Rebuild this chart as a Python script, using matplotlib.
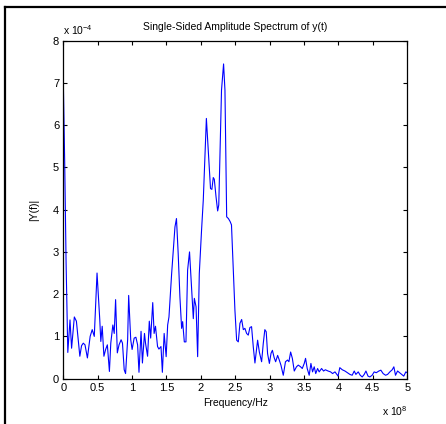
import numpy as np
import matplotlib
matplotlib.use("Agg")
import matplotlib.pyplot as plt
from matplotlib.lines import Line2D
from matplotlib.ticker import FormatStrFormatter

plt.rcParams['font.family'] = ['Liberation Sans', 'DejaVu Sans']
plt.rcParams['mathtext.fontset'] = 'custom'
plt.rcParams['mathtext.rm'] = 'Liberation Sans'

# frequency in units of 1e8 Hz, amplitude in units of 1e-4
freq = [0.0, 0.02, 0.04, 0.065, 0.097, 0.12, 0.16, 0.19, 0.24, 0.265,
        0.29, 0.315, 0.35, 0.39, 0.42, 0.45, 0.49, 0.53, 0.545, 0.565,
        0.59, 0.615, 0.64, 0.67, 0.69, 0.72, 0.74, 0.76, 0.785, 0.81,
        0.84, 0.86, 0.885, 0.905, 0.935, 0.95, 0.98, 1.0, 1.03, 1.055,
        1.08, 1.10, 1.13, 1.15, 1.18, 1.195, 1.225, 1.25, 1.27, 1.30,
        1.32, 1.34, 1.37, 1.39, 1.42, 1.44, 1.466, 1.495, 1.517, 1.536,
        1.575, 1.61, 1.623, 1.645, 1.67, 1.695, 1.72, 1.735, 1.759, 1.783,
        1.807, 1.835, 1.866, 1.89, 1.905, 1.93, 1.953, 1.977, 2.01, 2.035,
        2.08, 2.14, 2.16, 2.18, 2.195, 2.22, 2.244, 2.26, 2.30, 2.33,
        2.35, 2.375, 2.40, 2.425, 2.445, 2.495, 2.52, 2.544, 2.568, 2.593,
        2.617, 2.64, 2.665, 2.689, 2.713, 2.737, 2.762, 2.786, 2.81, 2.825,
        2.85, 2.883, 2.907, 2.93, 2.95, 2.97, 2.996, 3.02, 3.04, 3.065,
        3.087, 3.116, 3.14, 3.164, 3.198, 3.23, 3.26, 3.28, 3.305, 3.33,
        3.358, 3.39, 3.416, 3.45, 3.474, 3.503, 3.522, 3.546, 3.575, 3.60,
        3.624, 3.648, 3.67, 3.697, 3.72, 3.755, 3.784, 3.81, 3.85, 3.886,
        3.915, 3.95, 3.973, 3.995, 4.02, 4.056, 4.095, 4.13, 4.167, 4.20,
        4.23, 4.254, 4.288, 4.317, 4.346, 4.375, 4.40, 4.43, 4.457, 4.49,
        4.52, 4.55, 4.588, 4.617, 4.65, 4.686, 4.715, 4.748, 4.782, 4.806,
        4.83, 4.86, 4.89, 4.92, 4.95, 4.98, 5.0]
amp = [7.0, 5.1, 2.75, 0.62, 1.39, 0.72, 1.46, 1.36, 0.53, 0.78,
       0.84, 0.80, 0.49, 1.0, 1.16, 1.0, 2.5, 1.39, 0.88, 1.24,
       0.53, 0.69, 0.80, 0.17, 0.84, 1.27, 1.07, 1.87, 0.61, 0.80,
       0.92, 0.84, 0.21, 0.12, 0.92, 1.97, 0.92, 0.69, 0.96, 0.98,
       0.80, 0.15, 1.12, 0.37, 1.07, 0.84, 0.53, 1.36, 0.96, 1.80,
       1.07, 1.24, 0.76, 0.70, 0.76, 0.15, 1.07, 0.52, 1.27, 1.46,
       2.49, 3.3, 3.59, 3.79, 2.96, 1.94, 1.19, 1.35, 0.87, 0.87,
       2.57, 3.0, 2.09, 1.42, 1.90, 1.70, 0.52, 2.49, 3.52, 4.23,
       6.16, 4.50, 4.48, 4.76, 4.72, 4.31, 3.97, 4.11, 6.83, 7.45,
       6.83, 3.83, 3.79, 3.72, 3.64, 1.62, 0.91, 0.87, 1.31, 1.40,
       1.16, 1.19, 1.07, 1.03, 1.21, 1.23, 0.75, 0.37, 0.71, 0.91,
       0.63, 0.40, 0.83, 1.16, 1.11, 0.59, 0.36, 0.60, 0.67, 0.50,
       0.40, 0.55, 0.44, 0.32, 0.08, 0.40, 0.44, 0.40, 0.63, 0.48,
       0.18, 0.28, 0.32, 0.28, 0.24, 0.36, 0.48, 0.24, 0.08, 0.36,
       0.16, 0.28, 0.12, 0.24, 0.16, 0.24, 0.18, 0.21, 0.18, 0.16,
       0.12, 0.16, 0.11, 0.06, 0.26, 0.21, 0.18, 0.14, 0.10, 0.08,
       0.18, 0.10, 0.16, 0.08, 0.04, 0.10, 0.18, 0.06, 0.04, 0.08,
       0.16, 0.14, 0.18, 0.20, 0.12, 0.08, 0.10, 0.16, 0.21, 0.28,
       0.08, 0.18, 0.14, 0.10, 0.06, 0.16, 0.14]

x_ticks = [0, 0.5, 1, 1.5, 2, 2.5, 3, 3.5, 4, 4.5, 5]
y_ticks = [0, 1, 2, 3, 4, 5, 6, 7, 8]

fig = plt.figure(figsize=(4.46, 4.24), dpi=100)
ax = fig.add_axes([0.142, 0.107, 0.771, 0.797])

ax.plot(freq, amp, color='#0000ff', linewidth=0.8)

ax.set_xlim(0, 5)
ax.set_ylim(0, 8)
ax.set_xticks(x_ticks)
ax.set_yticks(y_ticks)
ax.xaxis.set_major_formatter(FormatStrFormatter('%g'))
ax.yaxis.set_major_formatter(FormatStrFormatter('%g'))
ax.tick_params(direction='in', length=3, width=0.8, top=True, right=True,
               labelsize=8, pad=3)
for s in ax.spines.values():
    s.set_linewidth(0.9)

ax.set_title('Single-Sided Amplitude Spectrum of y(t)', fontsize=7.5, pad=8)
ax.set_xlabel('Frequency/Hz', fontsize=7.5, labelpad=4)
ax.set_ylabel('|Y(f)|', fontsize=7.5, labelpad=10)

# MATLAB style exponent labels
ax.text(0, 1.012, r'x 10$^{-4}$', transform=ax.transAxes, fontsize=7.5,
        ha='left', va='bottom')
ax.text(1, -0.075, r'x 10$^{8}$', transform=ax.transAxes, fontsize=7.5,
        ha='right', va='top')

# partial frame around the figure (left and top)
fig.add_artist(Line2D([5 / 446, 5 / 446], [0, 1 - 7.3 / 424],
                      transform=fig.transFigure, color='black', linewidth=1.6))
fig.add_artist(Line2D([5 / 446, 1], [1 - 7.3 / 424, 1 - 7.3 / 424],
                      transform=fig.transFigure, color='black', linewidth=1.6))

fig.savefig('out.png', dpi=100)
